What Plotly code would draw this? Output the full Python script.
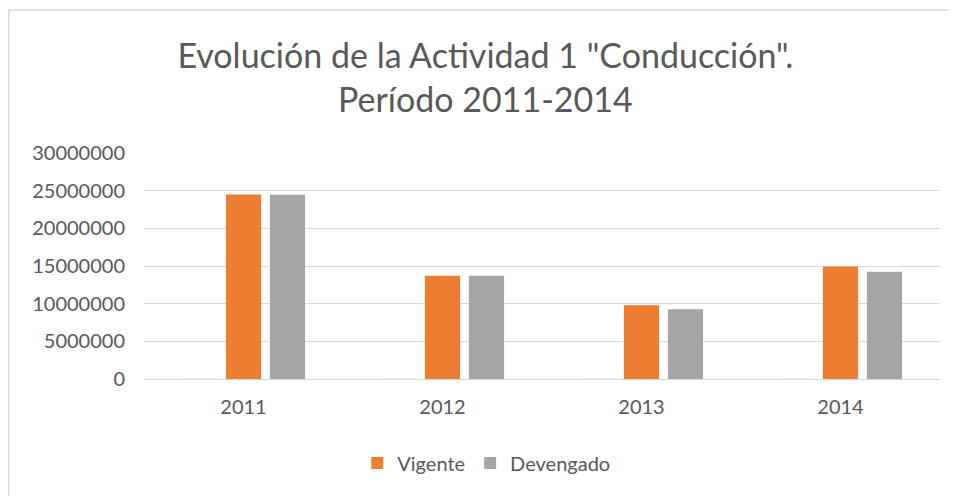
import plotly.graph_objects as go

# Datos
years = ["2011", "2012", "2013", "2014"]
vigente = [24500000, 13700000, 9800000, 14950000]
devengado = [24450000, 13700000, 9250000, 14250000]
vacia = [0, 0, 0, 0]  # serie vacía que ocupa el primer hueco del grupo

ORANGE = "#ED7D31"
GRAY = "#A5A5A5"
TEXT = "#595959"
GRID = "#D9D9D9"
FONT = "Lato"

fig = go.Figure()
fig.add_trace(go.Bar(x=years, y=vacia, name="", showlegend=False,
                     hoverinfo="skip", marker=dict(color="rgba(0,0,0,0)")))
fig.add_trace(go.Bar(x=years, y=vigente, name="Vigente",
                     marker=dict(color=ORANGE, line=dict(width=0))))
fig.add_trace(go.Bar(x=years, y=devengado, name="Devengado",
                     marker=dict(color=GRAY, line=dict(width=0))))

fig.update_layout(
    width=949, height=488,
    margin=dict(l=136, r=17, t=145, b=117),
    paper_bgcolor="white", plot_bgcolor="white",
    font=dict(family=FONT, color=TEXT, size=20),
    title=dict(
        text='Evolución de la Actividad 1 "Conducción".<br>Período 2011-2014',
        x=0.503, xanchor="center", y=0.877, yanchor="middle",
        font=dict(family=FONT, size=34, color=TEXT),
    ),
    barmode="group", bargap=0.337, bargroupgap=0.2,
    legend=dict(orientation="h", x=0.43, xanchor="center", y=-0.372,
                yanchor="middle", font=dict(size=20, color=TEXT),
                itemwidth=30, traceorder="normal"),
    xaxis=dict(showgrid=False, showline=True, linecolor=GRID,
               linewidth=1, ticks="", ticklabelstandoff=10,
               tickfont=dict(size=20, color=TEXT)),
    yaxis=dict(range=[0, 30000000], dtick=5000000, tickformat="d",
               showgrid=True, gridcolor=GRID, gridwidth=1,
               zeroline=False, ticks="", ticklabelstandoff=18,
               tickfont=dict(size=20, color=TEXT)),
)

# borde del área del gráfico
fig.add_shape(type="rect", xref="paper", yref="paper",
              x0=-0.170, x1=1.06, y0=-0.7, y1=1.633,
              line=dict(color=GRID, width=1.5), fillcolor="rgba(0,0,0,0)")

fig.write_html("out.html")
